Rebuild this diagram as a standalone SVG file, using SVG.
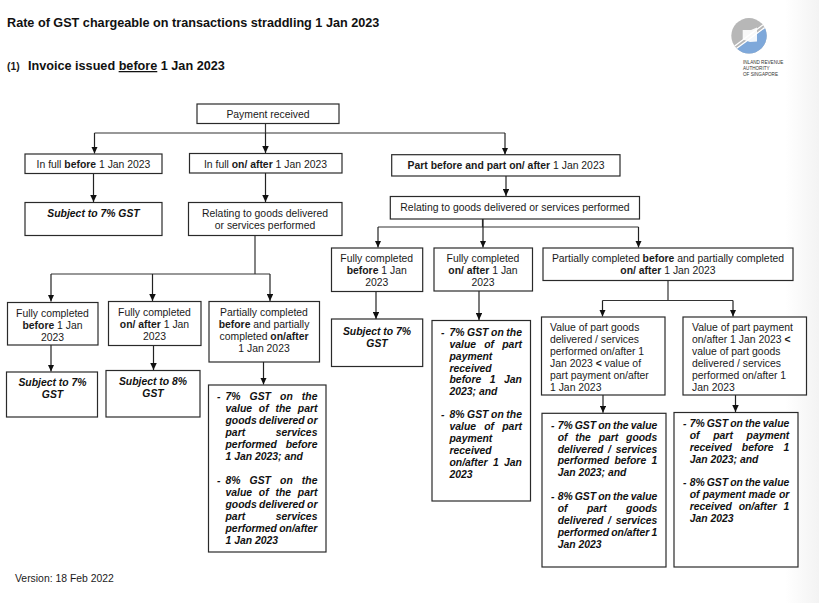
<svg xmlns="http://www.w3.org/2000/svg" width="819" height="603" viewBox="0 0 819 603">
<style>
text{font-family:"Liberation Sans",Arial,sans-serif;font-size:10.4px;fill:#1a1a1a}
.c{text-anchor:middle}
.b{font-weight:bold}
.bi{font-weight:bold;font-style:italic;fill:#111}
.box{fill:#fff;stroke:#2a2a2a;stroke-width:1.2}
.ln{fill:none;stroke:#333;stroke-width:1.2}
.ar{fill:none;stroke:#222;stroke-width:1.2;marker-end:url(#ah)}
.h{font-size:12.65px;font-weight:bold;fill:#111}
.lg{font-size:4.6px;fill:#333}
</style>
<defs>
<marker id="ah" markerUnits="userSpaceOnUse" markerWidth="7" markerHeight="6.5" refX="7" refY="3.25" orient="auto"><path d="M0 0L7 3.25L0 6.5Z" fill="#111"/></marker>
<linearGradient id="edge" x1="0" x2="1" y1="0" y2="0"><stop offset="0" stop-color="#fff"/><stop offset="1" stop-color="#f3f3f3"/></linearGradient>
<clipPath id="cc"><circle cx="749" cy="35.8" r="17.7"/></clipPath>
</defs>
<rect width="819" height="603" fill="#fff"/>
<rect x="785" y="0" width="34" height="603" fill="url(#edge)"/>

<g id="header">
<text x="7" y="27" class="h">Rate of GST chargeable on transactions straddling 1 Jan 2023</text>
<text x="7" y="70" class="b" style="font-size:10.4px">(1)</text>
<text x="28" y="70" class="h">Invoice issued <tspan text-decoration="underline">before</tspan> 1 Jan 2023</text>
</g>

<g id="logo">
<circle cx="749" cy="35.8" r="17.7" fill="#b7b7b7"/>
<g clip-path="url(#cc)">
<path d="M733 52C745 42 757 34 770 24V58H733Z" fill="#7ea8da"/>
<path d="M732 48C744 39 755 31 768 21" fill="none" stroke="#fff" stroke-width="1.3"/>
<path d="M733 51C745 42 757 34 769 24" fill="none" stroke="#fff" stroke-width="1.3"/>
</g>
<path d="M742.7 30L751 30L757 27.500L757 41.500L750 42L742.700 39.500Z" fill="#fff" opacity=".9"/>
<text x="743" y="64" class="lg">INLAND REVENUE</text>
<text x="743" y="69.500" class="lg">AUTHORITY</text>
<text x="743" y="75.500" class="lg">OF SINGAPORE</text>
</g>

<g id="connectors">
<path class="ln" d="M265.500 123.500V133M94.500 133H505"/>
<path class="ar" d="M94.500 133V153.500"/>
<path class="ar" d="M265.500 133V153"/>
<path class="ar" d="M505 133V154.500"/>
<path class="ar" d="M93.500 173.500V202"/>
<path class="ar" d="M265.500 173V202"/>
<path class="ar" d="M506 176V196"/>
<path class="ln" d="M482.500 219V227M378 227H638.500"/>
<path class="ar" d="M378 227V247.500"/>
<path class="ar" d="M483 219V247.500"/>
<path class="ar" d="M638.500 227V247.500"/>
<path class="ln" d="M255 235.500V274M51 274H270"/>
<path class="ar" d="M51 274V301.500"/>
<path class="ar" d="M152.500 274V301"/>
<path class="ar" d="M270 274V301"/>
<path class="ar" d="M51 345V371.500"/>
<path class="ar" d="M153.500 345.500V370"/>
<path class="ar" d="M263.500 362V384.500"/>
<path class="ar" d="M376 291.500V319"/>
<path class="ar" d="M479 291V320"/>
<path class="ln" d="M668 280.500V300.500M602.500 300.500H733"/>
<path class="ar" d="M602.500 300.500V316.500"/>
<path class="ar" d="M733 300.500V316.500"/>
<path class="ar" d="M603 395V412.800"/>
<path class="ar" d="M735.500 395V412"/>
</g>

<g id="n-payment"><rect class="box" x="197" y="104" width="142" height="19.500"/><text x="268" y="118" class="c">Payment received</text></g>
<g id="n-full-before"><rect class="box" x="25" y="154" width="137" height="19.500"/><text x="93.500" y="168" class="c">In full <tspan class="b">before</tspan> 1 Jan 2023</text></g>
<g id="n-full-after"><rect class="box" x="189.500" y="153.500" width="152.500" height="19.500"/><text x="265.500" y="168" class="c">In full <tspan class="b">on/ after</tspan> 1 Jan 2023</text></g>
<g id="n-part"><rect class="box" x="391.700" y="154.700" width="228.300" height="21.300"/><text x="506" y="169" class="c"><tspan class="b">Part before and part on/ after</tspan> 1 Jan 2023</text></g>
<g id="n-subject-a"><rect class="box" x="25" y="202.500" width="137" height="33"/><text x="93.500" y="217" class="c bi">Subject to 7% GST</text></g>
<g id="n-relating-a"><rect class="box" x="188.500" y="202.500" width="153.500" height="33"/><text x="265" y="217" class="c">Relating to goods delivered</text><text x="265" y="229" class="c">or services performed</text></g>
<g id="n-relating-b"><rect class="box" x="390.300" y="196.500" width="249.200" height="22.500"/><text x="515" y="211" class="c">Relating to goods delivered or services performed</text></g>

<g id="n-fully-before-a"><rect class="box" x="7.500" y="302.500" width="90.500" height="42.500"/><text x="52.500" y="317" class="c">Fully completed</text><text x="52.500" y="329" class="c"><tspan class="b">before</tspan> 1 Jan</text><text x="52.500" y="341" class="c">2023</text></g>
<g id="n-fully-after-a"><rect class="box" x="108.500" y="301.500" width="92.500" height="44"/><text x="154.500" y="316" class="c">Fully completed</text><text x="154.500" y="328" class="c"><tspan class="b">on/ after</tspan> 1 Jan</text><text x="154.500" y="340" class="c">2023</text></g>
<g id="n-partial-a"><rect class="box" x="209" y="301.500" width="110.500" height="60.500"/><text x="264" y="316" class="c">Partially completed</text><text x="264" y="328" class="c"><tspan class="b">before</tspan> and partially</text><text x="264" y="340" class="c">completed <tspan class="b">on/after</tspan></text><text x="264" y="352" class="c">1 Jan 2023</text></g>

<g id="n-subject-b"><rect class="box" x="6.500" y="372" width="91" height="45"/><text x="52.500" y="386" class="c bi">Subject to 7%</text><text x="52.500" y="398" class="c bi">GST</text></g>
<g id="n-subject-c"><rect class="box" x="106" y="370.500" width="94" height="46.500"/><text x="153" y="385" class="c bi">Subject to 8%</text><text x="153" y="397" class="c bi">GST</text></g>

<g id="n-result-a"><rect class="box" x="208.500" y="385" width="117.500" height="167"/>
<text x="217" y="399.500" class="bi">-</text><text x="225.500" y="399.500" class="bi" word-spacing="6.200">7% GST on the</text>
<text x="225.500" y="411.500" class="bi" word-spacing="3.900">value of the part</text>
<text x="225.500" y="423.500" class="bi" word-spacing="-.5">goods delivered or</text>
<text x="225.500" y="435.500" class="bi" word-spacing="27.800">part services</text>
<text x="225.500" y="447.500" class="bi" word-spacing="5.900">performed before</text>
<text x="225.500" y="459.500" class="bi">1 Jan 2023; and</text>
<text x="217" y="483.500" class="bi">-</text><text x="225.500" y="483.500" class="bi" word-spacing="6.200">8% GST on the</text>
<text x="225.500" y="495.500" class="bi" word-spacing="3.900">value of the part</text>
<text x="225.500" y="507.500" class="bi" word-spacing="-.5">goods delivered or</text>
<text x="225.500" y="519.500" class="bi" word-spacing="27.800">part services</text>
<text x="225.500" y="531.500" class="bi" word-spacing="-.5">performed on/after</text>
<text x="225.500" y="543.500" class="bi">1 Jan 2023</text>
</g>

<g id="n-fully-before-b"><rect class="box" x="331.500" y="248" width="91.200" height="43.500"/><text x="376.700" y="262" class="c">Fully completed</text><text x="376.700" y="274" class="c"><tspan class="b">before</tspan> 1 Jan</text><text x="376.700" y="286" class="c">2023</text></g>
<g id="n-fully-after-b"><rect class="box" x="434" y="248" width="98.500" height="43"/><text x="483" y="262" class="c">Fully completed</text><text x="483" y="274" class="c"><tspan class="b">on/ after</tspan> 1 Jan</text><text x="483" y="286" class="c">2023</text></g>
<g id="n-partial-b"><rect class="box" x="543" y="248" width="250" height="32.500"/><text x="668" y="262" class="c">Partially completed <tspan class="b">before</tspan> and partially completed</text><text x="668" y="274" class="c"><tspan class="b">on/ after</tspan> 1 Jan 2023</text></g>
<g id="n-subject-d"><rect class="box" x="331.500" y="319" width="91.200" height="47.500"/><text x="377" y="334.500" class="c bi">Subject to 7%</text><text x="377" y="346.500" class="c bi">GST</text></g>

<g id="n-result-b"><rect class="box" x="432" y="320.500" width="98.500" height="180.500"/>
<text x="441" y="335.500" class="bi">-</text><text x="449.500" y="335.500" class="bi" word-spacing="-.3">7% GST on the</text>
<text x="449.500" y="347.500" class="bi" word-spacing="5.300">value of part</text>
<text x="449.500" y="359.500" class="bi">payment</text>
<text x="449.500" y="371.500" class="bi">received</text>
<text x="449.500" y="382.500" class="bi" word-spacing="5.550">before 1 Jan</text>
<text x="449.500" y="395" class="bi">2023; and</text>
<text x="441" y="418" class="bi">-</text><text x="449.500" y="418" class="bi" word-spacing="-.3">8% GST on the</text>
<text x="449.500" y="430" class="bi" word-spacing="5.300">value of part</text>
<text x="449.500" y="442" class="bi">payment</text>
<text x="449.500" y="454" class="bi">received</text>
<text x="449.500" y="466" class="bi" word-spacing="2.400">on/after 1 Jan</text>
<text x="449.500" y="478" class="bi">2023</text>
</g>

<g id="n-value-a"><rect class="box" x="541.500" y="317" width="123.500" height="78"/>
<text x="550" y="331">Value of part goods</text>
<text x="550" y="343">delivered / services</text>
<text x="550" y="355.300">performed on/after 1</text>
<text x="550" y="367.300">Jan 2023 <tspan class="b">&lt;</tspan> value of</text>
<text x="550" y="379">part payment on/after</text>
<text x="550" y="391">1 Jan 2023</text>
</g>
<g id="n-value-b"><rect class="box" x="683" y="317" width="123.500" height="78"/>
<text x="692" y="331">Value of part payment</text>
<text x="692" y="343">on/after 1 Jan 2023 <tspan class="b">&lt;</tspan></text>
<text x="692" y="355.300">value of part goods</text>
<text x="692" y="367.300">delivered / services</text>
<text x="692" y="379">performed on/after 1</text>
<text x="692" y="391">Jan 2023</text>
</g>

<g id="n-result-c"><rect class="box" x="542" y="413.300" width="124" height="153.700"/>
<text x="551" y="428.500" class="bi">-</text><text x="557.700" y="428.500" class="bi" word-spacing="-.8">7% GST on the value</text>
<text x="557.700" y="440.500" class="bi" word-spacing="4.900">of the part goods</text>
<text x="557.700" y="452.500" class="bi" word-spacing="1.850">delivered / services</text>
<text x="557.700" y="464" class="bi" word-spacing="2.450">performed before 1</text>
<text x="557.700" y="475.500" class="bi">Jan 2023; and</text>
<text x="551" y="499.500" class="bi">-</text><text x="557.700" y="499.500" class="bi" word-spacing="-.8">8% GST on the value</text>
<text x="557.700" y="511.500" class="bi" word-spacing="16.600">of part goods</text>
<text x="557.700" y="523.500" class="bi" word-spacing="1.850">delivered / services</text>
<text x="557.700" y="535.500" class="bi" word-spacing="-.7">performed on/after 1</text>
<text x="557.700" y="547.500" class="bi">Jan 2023</text>
</g>
<g id="n-result-d"><rect class="box" x="674" y="412.500" width="124" height="154.500"/>
<text x="683" y="427" class="bi">-</text><text x="689.700" y="427" class="bi" word-spacing="-.8">7% GST on the value</text>
<text x="689.700" y="439.300" class="bi" word-spacing="10.850">of part payment</text>
<text x="689.700" y="451.300" class="bi" word-spacing="7.050">received before 1</text>
<text x="689.700" y="463" class="bi">Jan 2023; and</text>
<text x="683" y="486" class="bi">-</text><text x="689.700" y="486" class="bi" word-spacing="-.8">8% GST on the value</text>
<text x="689.700" y="498" class="bi" word-spacing=".3">of payment made or</text>
<text x="689.700" y="510" class="bi" word-spacing="3.900">received on/after 1</text>
<text x="689.700" y="522" class="bi">Jan 2023</text>
</g>

<g id="footer"><text x="15" y="582">Version: 18 Feb 2022</text></g>
</svg>
